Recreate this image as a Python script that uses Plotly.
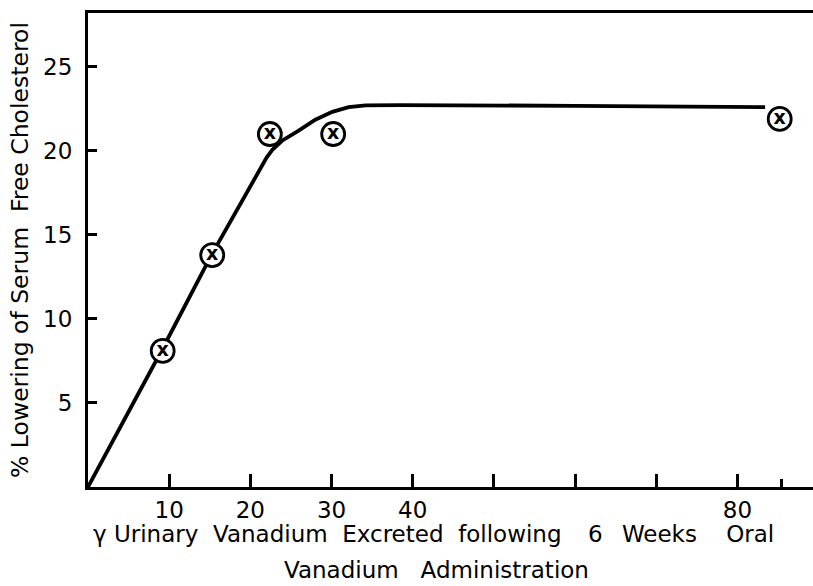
import plotly.graph_objects as go

# Measured data points (circled X)
point_x = [9.2, 15.3, 22.4, 30.2, 85.2]
point_y = [8.1, 13.8, 21.0, 21.0, 21.9]

# Fitted curve
curve_x = [0, 9.1, 15.2, 22.0, 22.7, 23.9, 25.9, 28.0, 30.1, 32.1, 34.2, 38.5, 60.0, 83.4]
curve_y = [0, 8.15, 13.8, 19.6, 20.06, 20.6, 21.19, 21.85, 22.32, 22.6, 22.7, 22.72, 22.68, 22.6]

x_tickvals = [10, 20, 30, 40, 50, 60, 70, 80]
x_ticktext = ["10", "20", "30", "40", "", "", "", "80"]
y_tickvals = [5, 10, 15, 20, 25]
y_ticktext = ["5", "10", "15", "20", "25"]

FONT = "DejaVu Sans"
NB = "\u00a0"
TH = "\u2009"

fig = go.Figure()
fig.add_trace(go.Scatter(
    x=curve_x, y=curve_y, mode="lines",
    line=dict(color="black", width=3.8, shape="linear"),
    hoverinfo="skip", showlegend=False,
))
fig.add_trace(go.Scatter(
    x=point_x, y=point_y, mode="markers+text",
    text=["x"] * len(point_x), textposition="middle center",
    textfont=dict(family=FONT, size=19, color="black", weight="bold"),
    marker=dict(symbol="circle", size=23, color="white",
                line=dict(color="black", width=2.8)),
    showlegend=False,
))

fig.update_layout(
    width=813, height=586,
    margin=dict(l=88, r=0, t=13, b=99),
    paper_bgcolor="white", plot_bgcolor="white",
    font=dict(family=FONT, size=23, color="black"),
    xaxis=dict(
        range=[0, 89.3], showgrid=False, zeroline=False,
        showline=True, linecolor="black", linewidth=3, mirror=True,
        tickmode="array", tickvals=x_tickvals, ticktext=x_ticktext,
        ticks="inside", ticklen=13, tickwidth=2.5, tickcolor="black",
        tickfont=dict(family=FONT, size=23), ticklabelstandoff=0,
        minor=dict(tickmode="array", tickvals=[85.4], ticks="inside",
                   ticklen=8, tickwidth=2.5, tickcolor="black"),
    ),
    yaxis=dict(
        range=[0, 28.2], showgrid=False, zeroline=False,
        showline=True, linecolor="black", linewidth=3, mirror=False,
        tickmode="array", tickvals=y_tickvals, ticktext=y_ticktext,
        ticks="inside", ticklen=9, tickwidth=2.5, tickcolor="black",
        tickfont=dict(family=FONT, size=23), ticklabelstandoff=8,
        title=dict(text="%" + NB + "Lowering" + NB + "of" + NB + "Serum" + NB + NB + "Free" + NB + "Cholesterol",
                   font=dict(family=FONT, size=23.5), standoff=8),
    ),
    annotations=[
        dict(text="\u03b3" + NB + "Urinary" + NB * 2 + "Vanadium" + NB * 2 + "Excreted" + NB * 2 +
                  "following" + NB * 3 + TH + "6" + NB * 2 + TH + "Weeks" + NB * 4 + "Oral",
             xref="paper", yref="paper", x=0.004, y=-0.068, xanchor="left", yanchor="top",
             showarrow=False, font=dict(family=FONT, size=23)),
        dict(text="Vanadium" + NB * 3 + "Administration",
             xref="paper", yref="paper", x=0.48, y=-0.207, xanchor="center", yanchor="bottom",
             showarrow=False, font=dict(family=FONT, size=23)),
    ],
)

fig.write_html("out.html", config={"displayModeBar": False},
               post_script="document.body.style.margin='0';document.body.style.overflow='hidden';")
